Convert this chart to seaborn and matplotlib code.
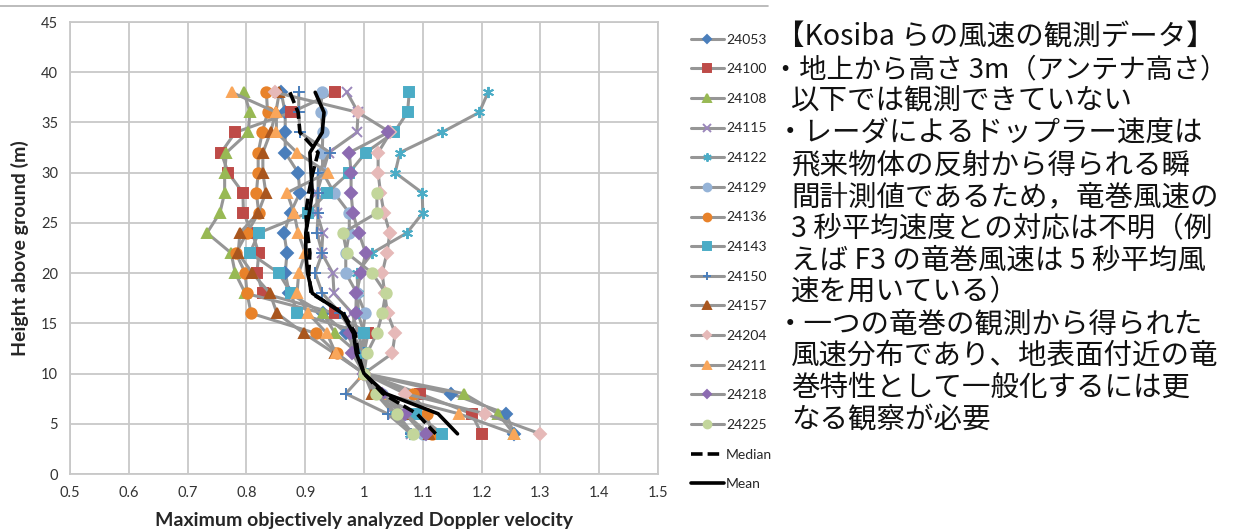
import numpy as np
import pandas as pd
import seaborn as sns
import matplotlib.pyplot as plt
from matplotlib.lines import Line2D

# heights (m), listed top to bottom
heights = [38, 36, 34, 32, 30, 28, 26, 24, 22, 20, 18, 16, 14, 12, 10, 8, 6, 4]
nan = np.nan

v24053 = [0.859, 0.866, 0.866, 0.866, 0.888, 0.891, 0.875, 0.864, 0.869, 0.866, 0.873, 0.93, 0.97, 0.99, 1.0, 1.148, 1.242, 1.255]
v24100 = [0.95, 0.876, 0.781, 0.757, 0.769, 0.794, 0.795, 0.81, 0.821, 0.818, 0.828, 0.95, 1.007, 1.0, 1.0, 1.095, 1.183, 1.2]
v24108 = [0.796, 0.806, 0.803, 0.766, 0.763, 0.763, 0.755, 0.733, 0.774, 0.781, 0.798, 0.93, 0.951, 0.99, 1.0, 1.17, 1.228, 1.255]
v24115 = [0.971, 0.99, 0.988, 0.94, 0.93, 0.92, 0.92, 0.93, 0.928, 0.947, 0.949, 0.98, 0.99, 1.0, 1.0, 1.02, 1.05, 1.08]
v24122 = [1.211, 1.196, 1.132, 1.061, 1.053, 1.099, 1.1, 1.073, 1.014, 0.988, 0.99, 0.99, 1.0, 1.0, 1.0, 1.03, 1.052, 1.078]
v24129 = [0.928, 0.927, 0.93, 0.929, 0.93, 0.949, 0.975, 0.975, 0.969, 0.969, 0.988, 1.002, 0.998, 1.0, 1.0, 1.03, 1.07, 1.1]
v24136 = [0.834, 0.836, 0.827, 0.82, 0.82, 0.817, 0.821, 0.801, 0.782, 0.798, 0.801, 0.808, 0.918, 0.954, 1.0, 1.083, 1.107, 1.115]
v24143 = [1.077, 1.074, 1.051, 1.003, 0.975, 0.937, 0.905, 0.821, 0.806, 0.855, 0.876, 0.886, 1.0, 1.0, 1.0, 1.02, 1.089, 1.133]
v24150 = [0.889, 0.889, 0.891, 0.942, 0.922, 0.922, 0.922, 0.92, 0.929, 0.917, 0.929, 0.96, 0.98, 1.0, 1.0, 0.969, 1.04, 1.08]
v24157 = [0.856, 0.85, 0.841, 0.828, 0.828, 0.833, 0.82, 0.789, 0.786, 0.81, 0.84, 0.852, 0.898, 0.95, 1.0, 1.014, 1.07, 1.11]
v24204 = [0.849, 0.99, 1.045, 1.024, 1.024, 1.028, 1.034, 1.044, 1.039, 1.031, 1.035, 1.04, 1.053, 1.048, 1.0, 1.07, 1.206, 1.3]
v24211 = [0.775, 0.851, 0.851, 0.886, 0.938, 0.869, 0.881, 0.888, 0.9, 0.889, 0.886, 0.905, 0.937, 0.952, 1.0, 1.03, 1.161, 1.255]
v24218 = [nan, nan, 1.041, 0.975, 0.978, 0.978, 0.981, 0.991, 1.003, 0.995, 0.987, 0.986, 0.977, 0.98, 1.0, 1.03, 1.07, 1.105]
v24225 = [nan, nan, nan, nan, nan, 1.022, 1.022, 0.964, 0.971, 1.014, 1.037, 1.031, 1.022, 1.005, 1.0, 1.02, 1.056, 1.083]
median = [0.874, 0.888, 0.891, 0.922, 0.913, 0.906, 0.901, 0.904, 0.908, 0.906, 0.91, 0.965, 0.985, 0.99, 1.0, 1.032, 1.09, 1.122]
mean = [0.917, 0.932, 0.929, 0.908, 0.91, 0.912, 0.907, 0.901, 0.901, 0.904, 0.912, 0.963, 0.982, 0.987, 1.0, 1.037, 1.126, 1.159]

names = ["24053", "24100", "24108", "24115", "24122", "24129", "24136",
         "24143", "24150", "24157", "24204", "24211", "24218", "24225"]
series = [v24053, v24100, v24108, v24115, v24122, v24129, v24136,
          v24143, v24150, v24157, v24204, v24211, v24218, v24225]

# marker style per series (Excel default look)
styles = {
    "24053": ("D", "#4a7ebb", 6),
    "24100": ("s", "#be4b48", 7),
    "24108": ("^", "#98b954", 7.5),
    "24115": ("x", "#9b87bb", 7),
    "24122": ((6, 2, 0), "#4bacc6", 8),
    "24129": ("o", "#95b3d7", 7.5),
    "24136": ("o", "#e8822a", 7.5),
    "24143": ("s", "#4bacc6", 7),
    "24150": ("+", "#4a7ebb", 8),
    "24157": ("^", "#a9561e", 7.5),
    "24204": ("D", "#e6b9b8", 6),
    "24211": ("^", "#f9a65a", 7.5),
    "24218": ("D", "#8c6bb1", 6),
    "24225": ("o", "#c3d69b", 7.5),
}

sns.set_style("white")
plt.rcParams["font.family"] = ["Lato", "DejaVu Sans"]

fig = plt.figure(figsize=(12.37, 5.31), dpi=100)
ax = fig.add_axes([70 / 1237, 57 / 531, 588 / 1237, 452 / 531])

for name, vals in zip(names, series):
    m, c, ms = styles[name]
    df = pd.DataFrame({"v": vals, "h": heights}).dropna()
    sns.lineplot(data=df, x="v", y="h", sort=False, estimator=None, ax=ax,
                 color="#969696", lw=2.2, marker=m, markersize=ms,
                 markerfacecolor=c, markeredgecolor=c, markeredgewidth=1.4,
                 label=name)

sns.lineplot(x=median, y=heights, sort=False, estimator=None, ax=ax,
             color="black", lw=2.6, linestyle=(0, (3.2, 1.4)), label="Median")
sns.lineplot(x=mean, y=heights, sort=False, estimator=None, ax=ax,
             color="black", lw=2.6, label="Mean")

ax.set_xlim(0.5, 1.5)
ax.set_ylim(0, 45)
ax.set_xticks(np.arange(0.5, 1.51, 0.1))
ax.set_xticklabels(["0.5", "0.6", "0.7", "0.8", "0.9", "1", "1.1", "1.2", "1.3", "1.4", "1.5"])
ax.set_yticks(range(0, 46, 5))
ax.grid(True, color="#c8c8c8", lw=1.3)
for s in ax.spines.values():
    s.set_color("#c8c8c8")
    s.set_linewidth(1.3)
ax.tick_params(axis="both", labelsize=10.5, colors="#333333", length=5,
               width=1.3, direction="out")
ax.tick_params(axis="both", color="#c8c8c8")
ax.set_xlabel("Maximum objectively analyzed Doppler velocity", fontsize=14,
              fontweight="bold", labelpad=9)
ax.set_ylabel("Height above ground (m)", fontsize=14, fontweight="bold", labelpad=9)

ax.get_legend().remove()
handles, labels = ax.get_legend_handles_labels()
fig.legend(handles, labels, loc="upper left", bbox_to_anchor=(685 / 1237, 1 - 28 / 531),
           frameon=False, fontsize=10, handlelength=2.4, handletextpad=0.15,
           labelspacing=1.27, borderaxespad=0, markerscale=0.75)

# thin rule across the top
fig.add_artist(Line2D([0, 768 / 1237], [1 - 6 / 531, 1 - 6 / 531],
                      color="#b0b0b0", lw=1.2))

notes = [
    (776, "【Kosiba らの風速の観測データ】", 20.5),
    (772, "・地上から高さ 3m（アンテナ高さ）", 19.6),
    (791, "以下では観測できていない", 20.5),
    (776, "・レーダによるドップラー速度は", 20.5),
    (791, "飛来物体の反射から得られる瞬", 20.5),
    (791, "間計測値であるため，竜巻風速の", 20.5),
    (791, "3 秒平均速度との対応は不明（例", 20.5),
    (791, "えば F3 の竜巻風速は 5 秒平均風", 20.5),
    (791, "速を用いている）", 20.5),
    (776, "・一つの竜巻の観測から得られた", 20.5),
    (791, "風速分布であり、地表面付近の竜", 20.5),
    (791, "巻特性として一般化するには更", 20.5),
    (791, "なる観察が必要", 20.5),
]
for i, (xp, t, fs) in enumerate(notes):
    yy = 38 + i * 31.8
    fig.text(xp / 1237, 1 - yy / 531, t, fontsize=fs, va="center", ha="left",
             family=["Noto Sans CJK JP", "DejaVu Sans"], color="#111111")

fig.savefig("out.png", dpi=100)
